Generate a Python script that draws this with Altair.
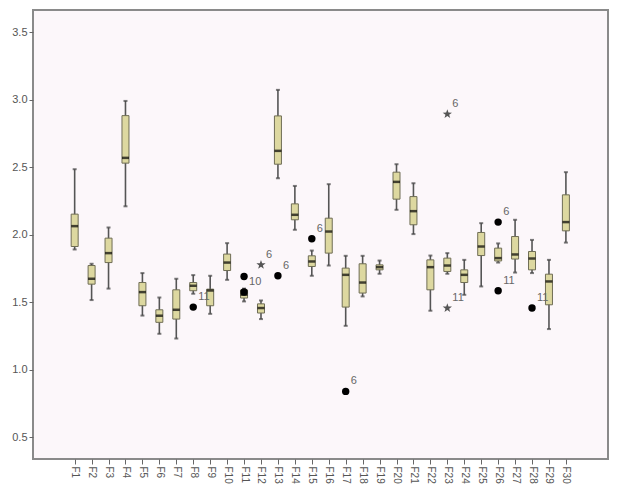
import altair as alt
import pandas as pd

categories = ["F%d" % i for i in range(1, 31)]
whisker_low = [1.89, 1.515, 1.60, 2.21, 1.40, 1.265, 1.23, 1.562, 1.413, 1.665,
               1.505, 1.374, 2.418, 2.036, 1.695, 1.771, 1.324, 1.542, 1.710, 2.184,
               2.004, 1.436, 1.710, 1.554, 1.616, 1.793, 1.719, 1.715, 1.300, 1.941]
q1 = [1.912, 1.633, 1.793, 2.530, 1.473, 1.350, 1.374, 1.584, 1.473, 1.734,
      1.530, 1.419, 2.522, 2.110, 1.764, 1.863, 1.463, 1.567, 1.739, 2.263,
      2.073, 1.591, 1.727, 1.645, 1.845, 1.805, 1.819, 1.739, 1.480, 2.028]
median = [2.063, 1.673, 1.863, 2.569, 1.574, 1.399, 1.443, 1.621, 1.586, 1.793,
          1.555, 1.456, 2.621, 2.147, 1.801, 2.023, 1.702, 1.645, 1.759, 2.391,
          2.174, 1.759, 1.771, 1.702, 1.912, 1.826, 1.853, 1.823, 1.653, 2.093]
q3 = [2.152, 1.771, 1.974, 2.882, 1.645, 1.443, 1.591, 1.645, 1.596, 1.856,
      1.590, 1.487, 2.880, 2.228, 1.843, 2.122, 1.752, 1.784, 1.776, 2.463,
      2.282, 1.813, 1.826, 1.739, 2.016, 1.900, 1.986, 1.875, 1.707, 2.295]
whisker_high = [2.485, 1.784, 2.053, 2.991, 1.715, 1.534, 1.673, 1.700, 1.695, 1.937,
                1.600, 1.512, 3.073, 2.361, 1.882, 2.374, 1.843, 1.843, 1.808, 2.522,
                2.381, 1.845, 1.863, 1.813, 2.085, 1.935, 2.110, 1.961, 1.813, 2.463]

out_cat = ["F8", "F11", "F11", "F12", "F13", "F15", "F17", "F23", "F23", "F26", "F26", "F28"]
out_val = [1.463, 1.69, 1.575, 1.776, 1.695, 1.969, 0.838, 2.893, 1.456, 2.093, 1.584, 1.456]
out_kind = ["circle", "circle", "circle", "star", "circle", "circle", "circle", "star", "star", "circle", "circle", "circle"]
out_label = ["11", "", "10", "6", "6", "6", "6", "6", "11", "6", "11", "11"]

box = pd.DataFrame({
    "cat": categories,
    "idx": list(range(1, 31)),
    "lo": whisker_low, "q1": q1, "med": median, "q3": q3, "hi": whisker_high,
})
outl = pd.DataFrame({"cat": out_cat, "val": out_val, "kind": out_kind, "label": out_label})
outl["idx"] = [categories.index(c) + 1 for c in out_cat]

FONT = "Liberation Sans"
xscale = alt.Scale(domain=[-1.164, 32.19], nice=False, zero=False)
yscale = alt.Scale(domain=[0.337, 3.665], nice=False, zero=False)

xaxis = alt.Axis(values=list(range(1, 31)), labelExpr="'F' + datum.value", labelAngle=90,
                 title=None, tickSize=5, labelFontSize=10, labelColor="#555",
                 tickColor="#666", domain=False, grid=False, labelPadding=2, labelFont=FONT)
yaxis = alt.Axis(values=[0.5, 1.0, 1.5, 2.0, 2.5, 3.0, 3.5], format=".1f", title=None,
                 tickSize=4, labelFontSize=11, labelColor="#555", tickColor="#666",
                 domain=False, grid=False, labelPadding=2, labelFont=FONT)

X = alt.X("idx:Q", scale=xscale, axis=xaxis)
base = alt.Chart(box)

whisk = base.mark_rule(color="#555", strokeWidth=1.6).encode(
    x=X, y=alt.Y("lo:Q", scale=yscale, axis=yaxis), y2="hi:Q")
cap_lo = base.mark_tick(color="#444", size=4, thickness=2, orient="horizontal").encode(
    x=X, y=alt.Y("lo:Q", scale=yscale))
cap_hi = base.mark_tick(color="#444", size=4, thickness=2, orient="horizontal").encode(
    x=X, y=alt.Y("hi:Q", scale=yscale))
boxes = base.mark_bar(size=7, fill="#DDD8A0", stroke="#6f6d55", strokeWidth=1,
                      orient="vertical").encode(
    x=X, y=alt.Y("q1:Q", scale=yscale), y2="q3:Q")
meds = base.mark_tick(color="#000", size=7, thickness=2.5, orient="horizontal").encode(
    x=X, y=alt.Y("med:Q", scale=yscale))

ob = alt.Chart(outl)
circles = ob.transform_filter("datum.kind == 'circle'").mark_point(
    filled=True, color="#000", size=55, opacity=1, shape="circle").encode(
    x=X, y=alt.Y("val:Q", scale=yscale))
STAR = ("M0,-1L0.235,-0.324L0.951,-0.309L0.38,0.124L0.588,0.809L0,0.4"
        "L-0.588,0.809L-0.38,0.124L-0.951,-0.309L-0.235,-0.324Z")
stars = ob.transform_filter("datum.kind == 'star'").mark_point(
    filled=True, color="#555", size=95, opacity=1, shape=STAR).encode(
    x=X, y=alt.Y("val:Q", scale=yscale))
labels = ob.mark_text(align="left", baseline="middle", dx=5, dy=-10, fontSize=11,
                      color="#666", font=FONT).encode(
    x=X, y=alt.Y("val:Q", scale=yscale), text="label:N")

chart = alt.layer(whisk, cap_lo, cap_hi, boxes, meds, circles, stars, labels).properties(
    width=575, height=449,
    autosize=alt.AutoSizeParams(type="none"),
    padding={"left": 25, "top": 2, "right": 4, "bottom": 30},
    background="white",
).configure_view(fill="#FCF7FA", stroke="#8a8a8a", strokeWidth=2)

chart.save("out.html", embed_options={"renderer": "svg", "actions": False})
